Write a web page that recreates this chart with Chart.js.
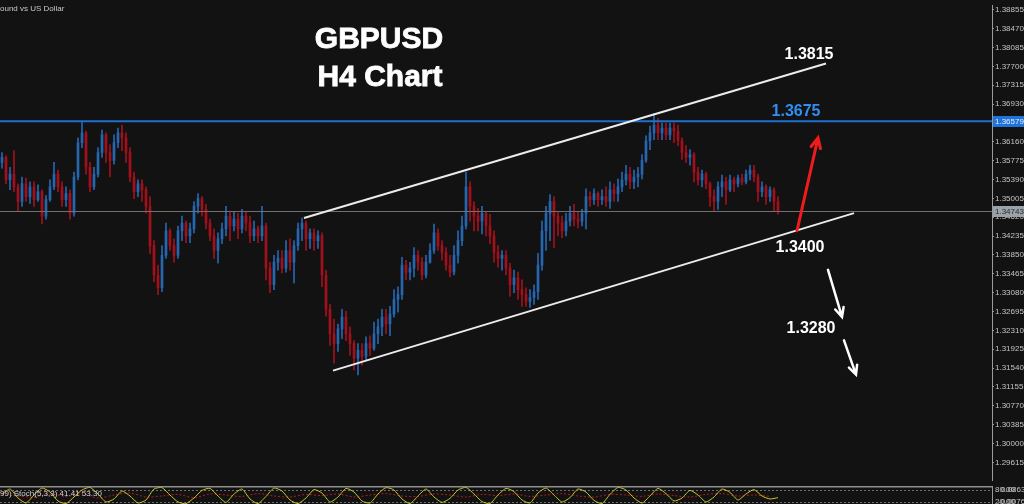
<!DOCTYPE html>
<html>
<head>
<meta charset="utf-8">
<title>GBPUSD H4 Chart</title>
<script src="https://cdn.jsdelivr.net/npm/chart.js@4.4.1/dist/chart.umd.min.js"></script>
<style>
  html, body { margin: 0; padding: 0; background: #121212; overflow: hidden; }
  #wrap { position: relative; width: 1024px; height: 504px; }
  #main { position: absolute; left: 0; top: 0; }
  #sub { position: absolute; left: 0; top: 486px; }
</style>
</head>
<body>
<div id="wrap">
  <canvas id="main" width="1024" height="486"></canvas>
  <canvas id="sub" width="1024" height="18"></canvas>
</div>
<script>
// H4 candles (oldest first)
const openP = [
  1.3574,1.3584,1.3538,1.3550,1.3524,1.3494,1.3530,1.3504,1.3524,1.3498,
  1.3514,1.3464,1.3498,1.3524,1.3550,1.3524,1.3498,1.3510,1.3470,1.3544,
  1.3614,1.3634,1.3564,1.3524,1.3550,1.3594,1.3630,1.3594,1.3578,1.3614,
  1.3634,1.3624,1.3594,1.3544,1.3514,1.3530,1.3518,1.3484,1.3404,1.3344,
  1.3318,1.3384,1.3434,1.3404,1.3384,1.3434,1.3450,1.3424,1.3438,1.3484,
  1.3500,1.3478,1.3450,1.3424,1.3394,1.3418,1.3438,1.3464,1.3444,1.3458,
  1.3438,1.3464,1.3450,1.3424,1.3438,1.3424,1.3444,1.3358,1.3324,1.3370,
  1.3378,1.3358,1.3394,1.3370,1.3404,1.3438,1.3450,1.3418,1.3430,1.3414,
  1.3424,1.3344,1.3274,1.3224,1.3204,1.3234,1.3258,1.3224,1.3204,1.3174,
  1.3190,1.3178,1.3204,1.3194,1.3224,1.3238,1.3258,1.3244,1.3264,1.3294,
  1.3304,1.3364,1.3350,1.3358,1.3384,1.3370,1.3344,1.3370,1.3394,1.3430,
  1.3404,1.3390,1.3364,1.3350,1.3384,1.3414,1.3444,1.3524,1.3484,1.3464,
  1.3454,1.3470,1.3444,1.3424,1.3390,1.3378,1.3384,1.3358,1.3324,1.3338,
  1.3314,1.3304,1.3290,1.3298,1.3310,1.3364,1.3434,1.3470,1.3494,1.3464,
  1.3450,1.3434,1.3454,1.3470,1.3458,1.3454,1.3470,1.3504,1.3498,1.3510,
  1.3498,1.3504,1.3494,1.3518,1.3510,1.3524,1.3538,1.3550,1.3534,1.3544,
  1.3550,1.3578,1.3618,1.3634,1.3650,1.3634,1.3644,1.3630,1.3644,1.3638,
  1.3618,1.3594,1.3584,1.3590,1.3554,1.3538,1.3550,1.3530,1.3504,1.3494,
  1.3524,1.3534,1.3518,1.3538,1.3530,1.3542,1.3534,1.3550,1.3558,1.3544,
  1.3514,1.3524,1.3504,1.3518,1.3494
];
const highP = [
  1.3594,1.3588,1.3564,1.3598,1.3530,1.3544,1.3542,1.3534,1.3534,1.3528,
  1.3518,1.3506,1.3538,1.3574,1.3558,1.3534,1.3524,1.3518,1.3554,1.3624,
  1.3658,1.3638,1.3574,1.3564,1.3604,1.3640,1.3634,1.3610,1.3630,1.3644,
  1.3650,1.3634,1.3604,1.3554,1.3538,1.3538,1.3524,1.3504,1.3414,1.3364,
  1.3404,1.3450,1.3438,1.3418,1.3444,1.3464,1.3454,1.3450,1.3494,1.3510,
  1.3504,1.3488,1.3458,1.3438,1.3430,1.3450,1.3484,1.3474,1.3474,1.3470,
  1.3478,1.3474,1.3464,1.3454,1.3444,1.3484,1.3450,1.3370,1.3384,1.3394,
  1.3394,1.3414,1.3418,1.3414,1.3450,1.3460,1.3454,1.3438,1.3438,1.3434,
  1.3430,1.3354,1.3284,1.3254,1.3244,1.3274,1.3270,1.3238,1.3210,1.3204,
  1.3204,1.3218,1.3220,1.3248,1.3254,1.3274,1.3274,1.3280,1.3314,1.3320,
  1.3380,1.3374,1.3370,1.3400,1.3394,1.3380,1.3384,1.3408,1.3448,1.3438,
  1.3414,1.3400,1.3384,1.3404,1.3434,1.3464,1.3554,1.3534,1.3494,1.3480,
  1.3484,1.3474,1.3468,1.3434,1.3404,1.3394,1.3394,1.3368,1.3354,1.3350,
  1.3334,1.3318,1.3314,1.3324,1.3388,1.3454,1.3484,1.3508,1.3504,1.3474,
  1.3464,1.3470,1.3484,1.3488,1.3474,1.3478,1.3520,1.3514,1.3520,1.3514,
  1.3518,1.3524,1.3534,1.3530,1.3540,1.3554,1.3568,1.3564,1.3558,1.3564,
  1.3590,1.3628,1.3648,1.3674,1.3664,1.3654,1.3654,1.3654,1.3654,1.3650,
  1.3624,1.3608,1.3600,1.3594,1.3564,1.3558,1.3554,1.3534,1.3518,1.3534,
  1.3548,1.3544,1.3548,1.3544,1.3548,1.3550,1.3558,1.3568,1.3568,1.3550,
  1.3534,1.3528,1.3524,1.3522,1.3504
];
const lowP = [
  1.3562,1.3530,1.3518,1.3514,1.3474,1.3484,1.3494,1.3490,1.3484,1.3494,
  1.3448,1.3458,1.3494,1.3518,1.3514,1.3484,1.3484,1.3458,1.3464,1.3538,
  1.3604,1.3550,1.3514,1.3518,1.3544,1.3584,1.3574,1.3544,1.3570,1.3604,
  1.3598,1.3574,1.3534,1.3500,1.3504,1.3494,1.3470,1.3388,1.3330,1.3304,
  1.3310,1.3378,1.3394,1.3370,1.3378,1.3414,1.3410,1.3410,1.3430,1.3470,
  1.3464,1.3438,1.3414,1.3378,1.3368,1.3408,1.3424,1.3414,1.3434,1.3418,
  1.3430,1.3434,1.3410,1.3414,1.3410,1.3414,1.3334,1.3308,1.3314,1.3354,
  1.3348,1.3350,1.3354,1.3328,1.3394,1.3414,1.3394,1.3398,1.3394,1.3398,
  1.3320,1.3260,1.3200,1.3164,1.3188,1.3214,1.3210,1.3180,1.3150,1.3140,
  1.3160,1.3170,1.3180,1.3190,1.3204,1.3220,1.3224,1.3220,1.3258,1.3268,
  1.3294,1.3334,1.3334,1.3340,1.3354,1.3334,1.3338,1.3368,1.3388,1.3394,
  1.3374,1.3354,1.3340,1.3344,1.3368,1.3404,1.3438,1.3454,1.3434,1.3434,
  1.3428,1.3424,1.3408,1.3370,1.3360,1.3354,1.3344,1.3300,1.3308,1.3294,
  1.3280,1.3280,1.3278,1.3284,1.3294,1.3354,1.3394,1.3414,1.3400,1.3424,
  1.3420,1.3424,1.3444,1.3444,1.3440,1.3444,1.3438,1.3484,1.3488,1.3484,
  1.3488,1.3484,1.3480,1.3494,1.3494,1.3514,1.3528,1.3520,1.3520,1.3524,
  1.3540,1.3574,1.3600,1.3620,1.3620,1.3620,1.3620,1.3620,1.3614,1.3608,
  1.3580,1.3574,1.3568,1.3534,1.3528,1.3524,1.3520,1.3484,1.3474,1.3478,
  1.3504,1.3488,1.3514,1.3514,1.3524,1.3528,1.3530,1.3538,1.3534,1.3494,
  1.3504,1.3488,1.3494,1.3474,1.3468
];
const closeP = [
  1.3584,1.3538,1.3550,1.3524,1.3494,1.3530,1.3504,1.3524,1.3498,1.3514,
  1.3464,1.3498,1.3524,1.3550,1.3524,1.3498,1.3510,1.3470,1.3544,1.3614,
  1.3634,1.3564,1.3524,1.3550,1.3594,1.3630,1.3594,1.3578,1.3614,1.3634,
  1.3624,1.3594,1.3544,1.3514,1.3530,1.3518,1.3484,1.3404,1.3344,1.3318,
  1.3384,1.3434,1.3404,1.3384,1.3434,1.3450,1.3424,1.3438,1.3484,1.3500,
  1.3478,1.3450,1.3424,1.3394,1.3418,1.3438,1.3464,1.3444,1.3458,1.3438,
  1.3464,1.3450,1.3424,1.3438,1.3424,1.3444,1.3358,1.3324,1.3370,1.3378,
  1.3358,1.3394,1.3370,1.3404,1.3438,1.3450,1.3418,1.3430,1.3414,1.3424,
  1.3344,1.3274,1.3224,1.3204,1.3234,1.3258,1.3224,1.3204,1.3174,1.3190,
  1.3178,1.3204,1.3194,1.3224,1.3238,1.3258,1.3244,1.3264,1.3294,1.3304,
  1.3364,1.3350,1.3358,1.3384,1.3370,1.3344,1.3370,1.3394,1.3430,1.3404,
  1.3390,1.3364,1.3350,1.3384,1.3414,1.3444,1.3524,1.3484,1.3464,1.3454,
  1.3470,1.3444,1.3424,1.3390,1.3378,1.3384,1.3358,1.3324,1.3338,1.3314,
  1.3304,1.3290,1.3298,1.3310,1.3364,1.3434,1.3470,1.3494,1.3464,1.3450,
  1.3434,1.3454,1.3470,1.3458,1.3454,1.3470,1.3504,1.3498,1.3510,1.3498,
  1.3504,1.3494,1.3518,1.3510,1.3524,1.3538,1.3550,1.3534,1.3544,1.3550,
  1.3578,1.3618,1.3634,1.3650,1.3634,1.3644,1.3630,1.3644,1.3638,1.3618,
  1.3594,1.3584,1.3590,1.3554,1.3538,1.3550,1.3530,1.3504,1.3494,1.3524,
  1.3534,1.3518,1.3538,1.3530,1.3542,1.3534,1.3550,1.3558,1.3544,1.3514,
  1.3524,1.3504,1.3518,1.3494,1.3474
];

// price axis labels
const tickValues = [
  1.38855, 1.38470, 1.38085, 1.37700, 1.37315, 1.36930, 1.36545, 1.36160,
  1.35775, 1.35390, 1.35005, 1.34620, 1.34235, 1.33850, 1.33465, 1.33080,
  1.32695, 1.32310, 1.31925, 1.31540, 1.31155, 1.30770, 1.30385, 1.30000, 1.29615
];
const yMin = 1.29251, yMax = 1.38935;

const resistance = 1.36579;   // blue horizontal line
const bidPrice = 1.34743;     // grey price line

// trend channel, [candle index, price]
const channelUpper = [[75.5, 1.34602], [206, 1.37757]];
const channelLower = [[82.75, 1.31487], [213, 1.34702]];

// arrows, [from, to]
const arrowUp = [[198.75, 1.34343], [204, 1.36239]];
const arrowDown1 = [[206.5, 1.33544], [210, 1.32585]];
const arrowDown2 = [[210.5, 1.32106], [213.5, 1.31407]];

// level labels: text, candle index, price (baseline)
const levelLabels = [
  ['1.3815', 201.75, 1.37857, '#ffffff'],
  ['1.3675', 198.5, 1.36679, '#2f8ff2'],
  ['1.3400', 199.5, 1.33903, '#ffffff'],
  ['1.3280', 202.25, 1.32266, '#ffffff']
];

// stochastic sub window
const stochK = [
  60,85,40,15,55,90,70,25,12,45, 80,93,60,20,35,75,50,15,30,85,
  92,55,20,12,40,78,88,50,18,60, 85,35,12,48,90,75,30,12,40,82,
  65,20,45,88,70,25,15,60,92,80, 35,12,50,85,45,18,38,80,93,60,
  22,12,55,88,72,30,15,65,90,55, 20,42,85,70,28,12,58,93,80,40,
  15,50,88,62,25,40,78,55,20,45, 85,68,30,60,82,50,35,42
];
const stochD = [
  55,50,45,60,48,62,40,55,65,45, 50,58,42,60,55,48,62,50,45,58,
  52,60,45,55,62,50,48,60,55,45, 58,52,60,48,55,62,50,45,58,55,
  48,60,52,45,58,62,50,55,48
];

const bull = '#2566b0';
const bear = '#a3101b';
const bg = '#121212';
const axisFont = '8px "Liberation Sans", Arial, sans-serif';

const candleColors = openP.map((o, i) => closeP[i] > o ? bull : bear);

function arrow(ctx, x0, y0, x1, y1, color, width, head) {
  const a = Math.atan2(y1 - y0, x1 - x0);
  ctx.strokeStyle = color;
  ctx.lineWidth = width;
  ctx.lineCap = 'round';
  ctx.beginPath();
  ctx.moveTo(x0, y0);
  ctx.lineTo(x1, y1);
  ctx.moveTo(x1 - head * Math.cos(a - 0.45), y1 - head * Math.sin(a - 0.45));
  ctx.lineTo(x1, y1);
  ctx.lineTo(x1 - head * Math.cos(a + 0.45), y1 - head * Math.sin(a + 0.45));
  ctx.stroke();
}

const mainOverlay = {
  id: 'mainOverlay',
  beforeDraw(chart) {
    const ctx = chart.ctx;
    ctx.save();
    ctx.fillStyle = bg;
    ctx.fillRect(0, 0, chart.width, chart.height);
    ctx.restore();
  },
  afterDatasetsDraw(chart) {
    const { ctx, chartArea, scales: { x, y } } = chart;
    const px = v => x.getPixelForValue(v);
    const py = v => y.getPixelForValue(v);
    ctx.save();

    // price line
    ctx.strokeStyle = '#707070';
    ctx.lineWidth = 1;
    ctx.beginPath();
    ctx.moveTo(chartArea.left, Math.round(py(bidPrice)) + 0.5);
    ctx.lineTo(chartArea.right, Math.round(py(bidPrice)) + 0.5);
    ctx.stroke();

    // resistance line
    ctx.strokeStyle = '#1f6fd0';
    ctx.lineWidth = 2;
    ctx.beginPath();
    ctx.moveTo(chartArea.left, py(resistance));
    ctx.lineTo(chartArea.right, py(resistance));
    ctx.stroke();

    // channel
    ctx.strokeStyle = '#ececec';
    ctx.lineWidth = 2;
    [channelUpper, channelLower].forEach(l => {
      ctx.beginPath();
      ctx.moveTo(px(l[0][0]), py(l[0][1]));
      ctx.lineTo(px(l[1][0]), py(l[1][1]));
      ctx.stroke();
    });

    // arrows
    arrow(ctx, px(arrowUp[0][0]), py(arrowUp[0][1]), px(arrowUp[1][0]), py(arrowUp[1][1]), '#f01c1c', 3, 11);
    [arrowDown1, arrowDown2].forEach(a =>
      arrow(ctx, px(a[0][0]), py(a[0][1]), px(a[1][0]), py(a[1][1]), '#ffffff', 2.5, 10));

    // level labels
    ctx.font = 'bold 16px "Liberation Sans", Arial, sans-serif';
    ctx.textAlign = 'center';
    ctx.textBaseline = 'alphabetic';
    levelLabels.forEach(([t, i, p, c]) => {
      ctx.fillStyle = c;
      ctx.fillText(t, px(i), py(p));
    });

    // title
    ctx.fillStyle = '#ffffff';
    ctx.strokeStyle = '#ffffff';
    ctx.lineWidth = 0.8;
    ctx.font = 'bold 30px "Liberation Sans", Arial, sans-serif';
    ctx.fillText('GBPUSD', 379, 48);
    ctx.strokeText('GBPUSD', 379, 48);
    ctx.fillText('H4 Chart', 380, 86);
    ctx.strokeText('H4 Chart', 380, 86);

    // symbol description
    ctx.font = axisFont;
    ctx.textAlign = 'left';
    ctx.fillStyle = '#c8c8c8';
    ctx.fillText('ound vs US Dollar', 0, 11);
    ctx.restore();
  },
  afterDraw(chart) {
    const { ctx, chartArea, scales: { y } } = chart;
    ctx.save();
    ctx.font = axisFont;
    ctx.textBaseline = 'middle';
    ctx.textAlign = 'left';
    const boxes = [[resistance, '#1f74dc', '#e6eefa'], [bidPrice, '#9aa3aa', '#2a2a2a']];
    boxes.forEach(([p, fill, txt]) => {
      const yc = Math.round(y.getPixelForValue(p));
      ctx.fillStyle = fill;
      ctx.fillRect(chartArea.right + 1, yc - 5, 31, 11);
      ctx.fillStyle = txt;
      ctx.fillText(p.toFixed(5), chartArea.right + 3, yc + 0.5);
    });
    ctx.restore();
  }
};

new Chart(document.getElementById('main'), {
  type: 'bar',
  data: {
    datasets: [
      {
        label: 'body',
        data: openP.map((o, i) => ({ x: i, y: [o, closeP[i]] })),
        backgroundColor: candleColors,
        borderWidth: 0,
        barThickness: 2,
        minBarLength: 1,
        grouped: false
      },
      {
        label: 'wick',
        data: lowP.map((l, i) => ({ x: i, y: [l, highP[i]] })),
        backgroundColor: candleColors,
        borderWidth: 0,
        barThickness: 1,
        grouped: false
      }
    ]
  },
  options: {
    responsive: false,
    animation: false,
    layout: { padding: { top: 0, right: 0, bottom: 1, left: 0 } },
    plugins: { legend: { display: false }, tooltip: { enabled: false } },
    scales: {
      x: { type: 'linear', min: -0.5, max: 247.5, offset: false, display: false },
      y: {
        position: 'right',
        min: yMin,
        max: yMax,
        afterFit: s => { s.width = 32; },
        afterBuildTicks: s => { s.ticks = tickValues.map(v => ({ value: v })); },
        ticks: {
          autoSkip: false,
          padding: 1,
          color: '#c4c4c4',
          font: { size: 8, family: '"Liberation Sans", Arial, sans-serif' },
          callback: v => v.toFixed(5)
        },
        grid: { drawOnChartArea: false, drawTicks: true, tickLength: 2, color: '#9a9a9a' },
        border: { display: true, color: '#9a9a9a' }
      }
    }
  },
  plugins: [mainOverlay]
});

const subOverlay = {
  id: 'subOverlay',
  beforeDraw(chart) {
    const ctx = chart.ctx;
    ctx.save();
    ctx.fillStyle = bg;
    ctx.fillRect(0, 0, chart.width, chart.height);
    ctx.restore();
  },
  beforeDatasetsDraw(chart) {
    const { ctx, chartArea, scales: { y } } = chart;
    ctx.save();
    ctx.strokeStyle = '#6c6c6c';
    ctx.lineWidth = 1;
    ctx.setLineDash([2, 2]);
    [80, 20].forEach(v => {
      const yy = Math.round(y.getPixelForValue(v)) + 0.5;
      ctx.beginPath();
      ctx.moveTo(chartArea.left, yy);
      ctx.lineTo(chartArea.right, yy);
      ctx.stroke();
    });
    ctx.restore();
  },
  afterDraw(chart) {
    const { ctx, chartArea, scales: { y } } = chart;
    ctx.save();
    // separator from main window
    ctx.fillStyle = '#8e8e8e';
    ctx.fillRect(0, 0, chartArea.right, 1.5);
    // axis line
    ctx.fillStyle = '#9a9a9a';
    ctx.fillRect(chartArea.right, 0, 1, chart.height);
    ctx.font = axisFont;
    ctx.textBaseline = 'middle';
    ctx.fillStyle = '#d0d0d0';
    ctx.fillText('99) Stoch(5,3,3) 41.41 53.30', 0, 8);
    ctx.fillStyle = '#c4c4c4';
    const y80 = y.getPixelForValue(80), y20 = y.getPixelForValue(20);
    ctx.fillText('80.00', chartArea.right + 3, y80);
    ctx.fillText('0.08635', chartArea.right + 9, y80);
    ctx.fillText('20.00', chartArea.right + 3, y20);
    ctx.fillText('-0.00767', chartArea.right + 6, y20);
    ctx.restore();
  }
};

new Chart(document.getElementById('sub'), {
  type: 'line',
  data: {
    datasets: [
      {
        data: stochK.map((v, i) => ({ x: i * 2, y: v })),
        borderColor: '#c9c52a',
        borderWidth: 1,
        pointRadius: 0,
        tension: 0.2,
        clip: false
      },
      {
        data: stochD.map((v, i) => ({ x: i * 4, y: v })),
        borderColor: '#b41c1c',
        borderWidth: 1,
        borderDash: [2, 2],
        pointRadius: 0,
        tension: 0.3,
        clip: false
      }
    ]
  },
  options: {
    responsive: false,
    animation: false,
    layout: { padding: { top: 1, right: 32, bottom: 0, left: 0 } },
    plugins: { legend: { display: false }, tooltip: { enabled: false } },
    scales: {
      x: { type: 'linear', min: -0.5, max: 247.5, display: false },
      y: { min: 10, max: 95, display: false }
    }
  },
  plugins: [subOverlay]
});
</script>
</body>
</html>
